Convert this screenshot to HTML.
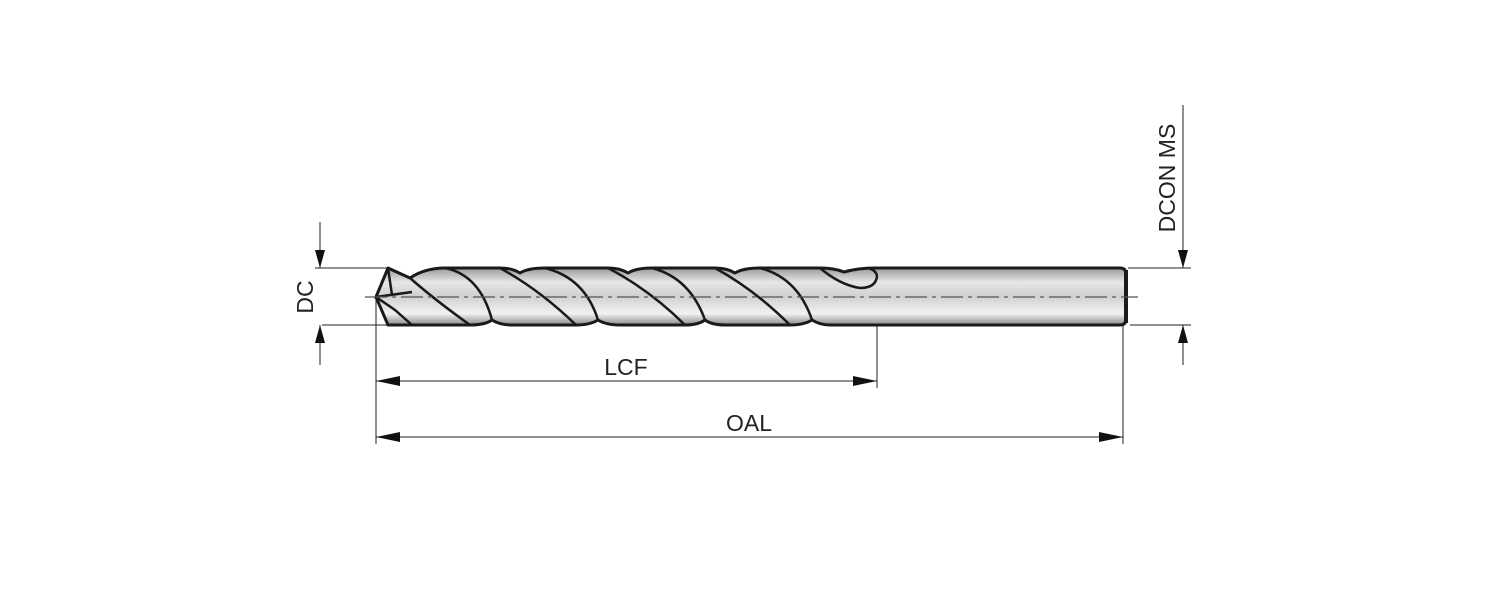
<!DOCTYPE html>
<html><head><style>html,body{margin:0;padding:0;background:#fff;}svg{display:block}</style></head>
<body>
<svg width="1500" height="594" viewBox="0 0 1500 594" xmlns="http://www.w3.org/2000/svg">
<defs>
<linearGradient id="g" x1="0" y1="0" x2="0" y2="1">
<stop offset="0" stop-color="#9a9a9a"/>
<stop offset="0.25" stop-color="#e6e6e6"/>
<stop offset="0.5" stop-color="#d0d0d0"/>
<stop offset="0.8" stop-color="#f2f2f2"/>
<stop offset="1" stop-color="#8a8a8a"/>
</linearGradient>
</defs>
<g fill="none" stroke="#222" stroke-width="1">
<!-- DC -->
<line x1="320" y1="222" x2="320" y2="268"/>
<line x1="320" y1="325" x2="320" y2="365"/>
<line x1="315" y1="268" x2="388" y2="268"/>
<line x1="322" y1="325" x2="388" y2="325"/>
<!-- DCON -->
<line x1="1183" y1="105" x2="1183" y2="268"/>
<line x1="1183" y1="325" x2="1183" y2="365"/>
<line x1="1128" y1="268" x2="1191" y2="268"/>
<line x1="1130" y1="325" x2="1191" y2="325"/>
<!-- extension verticals -->
<line x1="376" y1="300" x2="376" y2="444"/>
<line x1="877" y1="325" x2="877" y2="388"/>
<line x1="1123" y1="325" x2="1123" y2="444"/>
<line x1="376" y1="381" x2="877" y2="381"/>
<line x1="376" y1="437" x2="1123" y2="437"/>
</g>
<g fill="#111">
<polygon points="320,268 315,250 325,250"/>
<polygon points="320,325 315,343 325,343"/>
<polygon points="1183,268 1178,250 1188,250"/>
<polygon points="1183,325 1178,343 1188,343"/>
<polygon points="376,381 400,376 400,386"/>
<polygon points="877,381 853,376 853,386"/>
<polygon points="376,437 400,432 400,442"/>
<polygon points="1123,437 1099,432 1099,442"/>
</g>
<!-- drill body -->
<path d="M388,268 L410,278 Q425,268 445,268 L500,268 Q512,268 520,273 Q528,268 545,268 L608,268 Q620,268 628,273 Q636,268 652,268 L715,268 Q727,268 735,273 Q743,268 760,268 L820,268 Q834,268 844,272 Q858,268 875,268 L1120,268 Q1126,268 1126,274 L1126,319 Q1126,325 1120,325 L877,325 L830,325 Q820,325 812,320 Q804,325 790,325 L725,325 Q712,325 705,320 Q698,325 685,325 L620,325 Q606,325 598,320 Q590,325 576,325 L512,325 Q500,325 492,320 Q485,325 470,325 L412,325 Q400,325 388,325 L376,297 Z" fill="url(#g)" stroke="#1a1a1a" stroke-width="3" stroke-linejoin="round"/>
<g fill="none" stroke="#1a1a1a" stroke-width="2.5">
<path d="M388,268 Q405,276 410,278 Q435,300 470,325"/>
<path d="M445,268 Q480,275 492,320"/>
<path d="M500,268 Q540,290 576,325"/>
<path d="M545,268 Q585,278 598,320"/>
<path d="M608,268 Q650,290 685,325"/>
<path d="M652,268 Q690,278 705,320"/>
<path d="M715,268 Q755,290 790,325"/>
<path d="M760,268 Q798,278 812,320"/>
<path d="M820,268 Q840,285 860,288 Q876,288 877,276 Q876,270 868,268"/>
<path d="M388,268 L376,297 L412,292"/>
<path d="M376,297 L395,310 L412,325"/>
<path d="M388,268 L392,295"/>
<line x1="1126" y1="270" x2="1126" y2="323" stroke-width="4"/>
</g>
<line x1="365" y1="297" x2="1138" y2="297" stroke="#555" stroke-width="1.2" stroke-dasharray="22,5,4,5"/>
<g font-family="Liberation Sans, sans-serif" font-size="23" fill="#222">
<text x="626" y="375" text-anchor="middle">LCF</text>
<text x="749" y="431" text-anchor="middle">OAL</text>
<text transform="translate(313,297) rotate(-90)" text-anchor="middle">DC</text>
<text transform="translate(1175,178) rotate(-90)" text-anchor="middle">DCON MS</text>
</g>
</svg>
</body></html>
